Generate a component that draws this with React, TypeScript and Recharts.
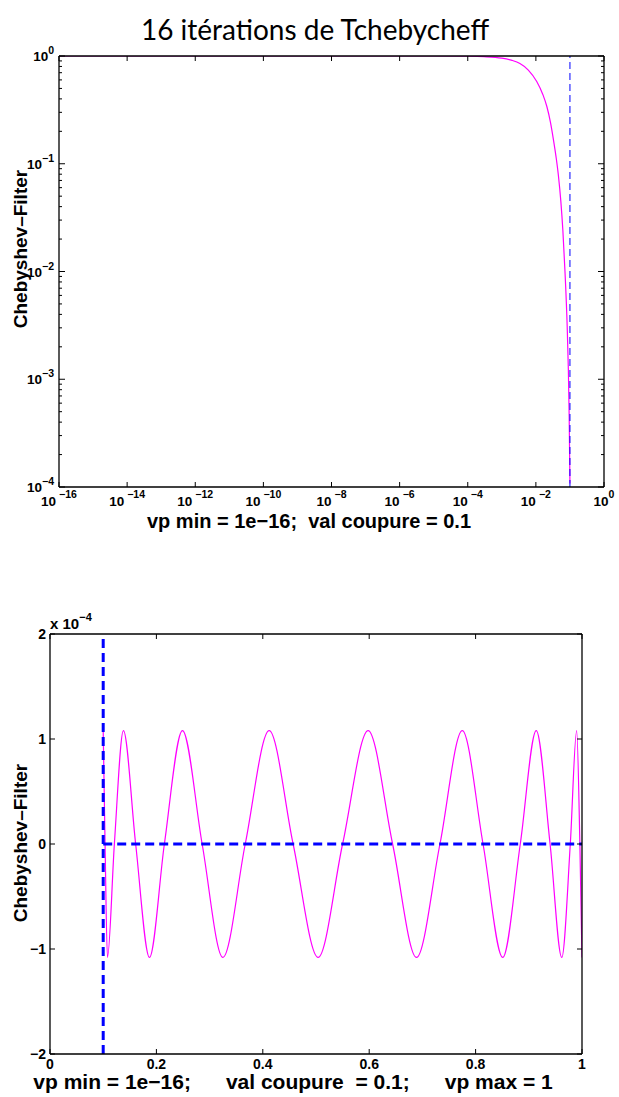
import React from 'react'
import { LineChart, Line, XAxis, YAxis, ReferenceLine } from 'recharts'

const FONT = '"Liberation Sans", Arial, Helvetica, sans-serif'
const MAGENTA = '#ff00ff'
const BLUE = '#0000ff'
const MINUS = '\u2212'

// top panel (log-log): filter value vs eigenvalue
const topX = [1e-16, 1e-10, 1e-6, 1e-5, 1e-4, 3e-4, 1e-3, 2e-3, 3.4e-3, 6e-3, 1.06e-2, 1.6e-2, 2.1e-2, 2.7e-2, 3.3e-2, 4e-2, 4.6e-2, 5.4e-2, 6.2e-2, 7.2e-2, 8.3e-2, 9e-2, 9.5e-2, 0.1]
const topY = [1, 1, 0.9999, 0.9995, 0.995, 0.986, 0.955, 0.91, 0.85, 0.74, 0.58, 0.44, 0.34, 0.24, 0.165, 0.11, 0.077, 0.045, 0.024, 0.0096, 0.0031, 0.0012, 0.00045, 0.000108]
const topXTicks = [1e-16, 1e-14, 1e-12, 1e-10, 1e-8, 1e-6, 1e-4, 1e-2, 1]
const topYDecades = [1e-4, 1e-3, 1e-2, 1e-1, 1]
const minorSteps = [2, 3, 4, 5, 6, 7, 8, 9]
const cutoff = 0.1

// bottom panel (linear): values in units of 1e-4
const botX = [0.1, 0.1035, 0.108, 0.121, 0.138, 0.161, 0.187, 0.215, 0.249, 0.286, 0.325, 0.367, 0.412, 0.457, 0.504, 0.55, 0.598, 0.644, 0.689, 0.733, 0.775, 0.814, 0.851, 0.884, 0.914, 0.94, 0.962, 0.978, 0.99, 0.996, 1]
const botY = [1.08, 0, -1.08, 0, 1.08, 0, -1.08, 0, 1.08, 0, -1.08, 0, 1.08, 0, -1.08, 0, 1.08, 0, -1.08, 0, 1.08, 0, -1.08, 0, 1.08, 0, -1.08, 0, 1.08, 0, -1.08]
const botXTicks = [0, 0.2, 0.4, 0.6, 0.8, 1]
const botXLabels = ['0', '0.2', '0.4', '0.6', '0.8', '1']
const botYTicks = [-2, -1, 0, 1, 2]

const topData = topX.map((x, i) => ({ x, y: topY[i] }))
const botData = botX.map((x, i) => ({ x, y: botY[i] }))
const topYTicks = topYDecades.flatMap((d, i) =>
  i < topYDecades.length - 1 ? [d, ...minorSteps.map((m) => m * d)] : [d]
)

const isDecade = (v: number) => Math.abs(Math.log10(v) - Math.round(Math.log10(v))) < 1e-6
const expOf = (v: number) => Math.round(Math.log10(v))
const signed = (n: number) => (n < 0 ? MINUS + Math.abs(n) : String(n))

const txt = { fontFamily: FONT, fontWeight: 'bold' as const, fill: '#000' }

function LogXTick({ x, y, payload, side }: any) {
  const e = expOf(payload.value)
  if (side === 'top') return <line x1={x} x2={x} y1={y} y2={y + 5} stroke="#000" />
  return (
    <g>
      <line x1={x} x2={x} y1={y} y2={y - 5} stroke="#000" />
      <text x={x} y={y + 19} textAnchor="middle" fontSize={13.5} {...txt}>
        10
        <tspan dy={-8} dx={e < 0 ? 3 : 0} fontSize={10.5}>{signed(e)}</tspan>
      </text>
    </g>
  )
}

function LogYTick({ x, y, payload, side }: any) {
  const major = isDecade(payload.value)
  const len = major ? 6 : 3
  const dir = side === 'right' ? -1 : 1
  return (
    <g>
      <line x1={x} x2={x + dir * len} y1={y} y2={y} stroke="#000" />
      {side !== 'right' && major && (
        <text x={x - 5} y={y + 5} textAnchor="end" fontSize={13.5} {...txt}>
          10
          <tspan dy={-7} fontSize={10.5}>{signed(expOf(payload.value))}</tspan>
        </text>
      )}
    </g>
  )
}

function LinXTick({ x, y, side, index }: any) {
  if (side === 'top') return <line x1={x} x2={x} y1={y} y2={y + 5} stroke="#000" />
  return (
    <g>
      <line x1={x} x2={x} y1={y} y2={y - 5} stroke="#000" />
      <text x={x} y={y + 15} textAnchor="middle" fontSize={14} {...txt}>{botXLabels[index]}</text>
    </g>
  )
}

function LinYTick({ x, y, payload, side }: any) {
  const dir = side === 'right' ? -1 : 1
  return (
    <g>
      <line x1={x} x2={x + dir * 5} y1={y} y2={y} stroke="#000" />
      {side !== 'right' && (
        <text x={x - 4} y={y + 5} textAnchor="end" fontSize={14} {...txt}>{signed(payload.value)}</text>
      )}
    </g>
  )
}

const axisLine = { stroke: '#000', strokeWidth: 1.3 }

export default function App() {
  return (
    <div style={{ position: 'absolute', left: 0, top: 0, width: 619, height: 1097, background: '#fff' }}>
      <div style={{ position: 'absolute', left: 0, top: 0 }}>
        <LineChart width={619} height={540} data={topData} margin={{ top: 46, right: 5, bottom: 13, left: 0 }}>
          <XAxis dataKey="x" type="number" scale="log" domain={[1e-16, 1]} ticks={topXTicks} interval={0}
            allowDataOverflow height={40} tickSize={0} tickMargin={0} axisLine={axisLine} tickLine={false}
            tick={<LogXTick side="bottom" />} />
          <XAxis xAxisId="top" orientation="top" dataKey="x" type="number" scale="log" domain={[1e-16, 1]} ticks={topXTicks}
            interval={0} allowDataOverflow height={10} tickSize={0} tickMargin={0} axisLine={axisLine} tickLine={false}
            tick={<LogXTick side="top" />} />
          <YAxis type="number" scale="log" domain={[1e-4, 1]} ticks={topYTicks} interval={0} allowDataOverflow
            width={59} tickSize={0} tickMargin={0} axisLine={axisLine} tickLine={false} tick={<LogYTick side="left" />} />
          <YAxis yAxisId="right" orientation="right" type="number" scale="log" domain={[1e-4, 1]} ticks={topYTicks}
            interval={0} allowDataOverflow width={10} tickSize={0} tickMargin={0} axisLine={axisLine} tickLine={false}
            tick={<LogYTick side="right" />} />
          <Line dataKey="y" type="monotone" stroke={MAGENTA} strokeWidth={1.2} dot={false} isAnimationActive={false} />
          <ReferenceLine x={cutoff} stroke={BLUE} strokeWidth={1} strokeDasharray="7 4" />
        </LineChart>
      </div>
      <div style={{ position: 'absolute', left: 0, top: 560 }}>
        <LineChart width={619} height={537} data={botData} margin={{ top: 64, right: 27, bottom: 3, left: 0 }}>
          <XAxis dataKey="x" type="number" domain={[0, 1]} ticks={botXTicks} interval={0} allowDataOverflow
            height={40} tickSize={0} tickMargin={0} axisLine={axisLine} tickLine={false} tick={<LinXTick side="bottom" />} />
          <XAxis xAxisId="top" orientation="top" dataKey="x" type="number" domain={[0, 1]} ticks={botXTicks} interval={0}
            allowDataOverflow height={10} tickSize={0} tickMargin={0} axisLine={axisLine} tickLine={false}
            tick={<LinXTick side="top" />} />
          <YAxis type="number" domain={[-2, 2]} ticks={botYTicks} interval={0} allowDataOverflow width={50}
            tickSize={0} tickMargin={0} axisLine={axisLine} tickLine={false} tick={<LinYTick side="left" />} />
          <YAxis yAxisId="right" orientation="right" type="number" domain={[-2, 2]} ticks={botYTicks} interval={0}
            allowDataOverflow width={10} tickSize={0} tickMargin={0} axisLine={axisLine} tickLine={false}
            tick={<LinYTick side="right" />} />
          <Line dataKey="y" type="monotone" stroke={MAGENTA} strokeWidth={1.2} dot={false} isAnimationActive={false} />
          <ReferenceLine x={cutoff} stroke={BLUE} strokeWidth={3} strokeDasharray="9 5" />
          <ReferenceLine segment={[{ x: cutoff, y: 0 }, { x: 1, y: 0 }]} stroke={BLUE} strokeWidth={3} strokeDasharray="9 5" />
        </LineChart>
      </div>
      <svg width={619} height={1097} style={{ position: 'absolute', left: 0, top: 0, pointerEvents: 'none' }}>
        <text x={315} y={40} textAnchor="middle" fontFamily="Lato, sans-serif" fontSize={28} fill="#000">
          16 itérations de Tchebycheff
        </text>
        <text transform="translate(27,249) rotate(-90)" textAnchor="middle" fontSize={19} {...txt}>
          Chebyshev–Filter
        </text>
        <text x={309} y={528} textAnchor="middle" fontSize={20} {...txt} style={{ whiteSpace: 'pre' }}>
          {'vp min = 1e\u221216;  val coupure = 0.1'}
        </text>
        <text transform="translate(27,843) rotate(-90)" textAnchor="middle" fontSize={19} {...txt}>
          Chebyshev–Filter
        </text>
        <text x={50} y={629} fontSize={15} {...txt}>
          x 10<tspan dy={-8} fontSize={11}>{MINUS}4</tspan>
        </text>
        <text x={293} y={1089} textAnchor="middle" fontSize={21} {...txt} style={{ whiteSpace: 'pre' }}>
          {'vp min = 1e\u221216;      val coupure  = 0.1;      vp max = 1'}
        </text>
      </svg>
    </div>
  )
}
